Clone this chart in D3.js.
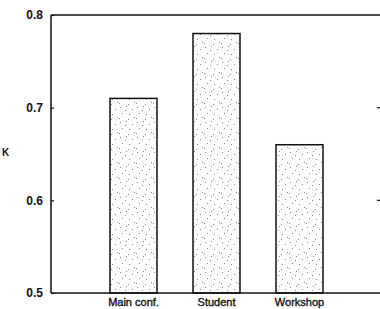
<!DOCTYPE html>
<html>
<head>
<meta charset="utf-8">
<script src="https://cdn.jsdelivr.net/npm/d3@7"></script>
<style>
  body { margin: 0; background: #fff; }
  text { font-family: "Liberation Sans", Arial, sans-serif; fill: #111; }
</style>
</head>
<body>
<script>
// values
const categories = ["Main conf.", "Student", "Workshop"];
const kValues = [0.71, 0.78, 0.66];
const yTicks = [0.5, 0.6, 0.7, 0.8];

(function() {
    const W = 380, H = 309;
    const left = 51, top = 15, bottom = 293;

    const svg = d3.select("body").append("svg")
        .attr("width", W)
        .attr("height", H);

    // stipple fill for the bars
    const defs = svg.append("defs");
    const pat = defs.append("pattern")
        .attr("id", "stip")
        .attr("patternUnits", "userSpaceOnUse")
        .attr("width", 17).attr("height", 15);
    pat.append("rect").attr("width", 17).attr("height", 15).attr("fill", "#fdfdfd");
    [[1,2],[7,1],[13,4],[3,8],[10,9],[15,12],[6,5],[0,13],[9,14]].forEach(function(p) {
        pat.append("rect").attr("x", p[0]).attr("y", p[1])
            .attr("width", 1).attr("height", 1).attr("fill", "#888");
    });

    const x = d3.scaleBand()
        .domain(categories)
        .range([92, 341])
        .paddingInner(0.434)
        .paddingOuter(0.217);

    const y = d3.scaleLinear()
        .domain([0.5, 0.8])
        .range([bottom, top]);

    // bars
    svg.append("g")
        .selectAll("rect")
        .data(categories)
        .join("rect")
            .attr("x", d => x(d))
            .attr("y", (d, i) => y(kValues[i]))
            .attr("width", x.bandwidth())
            .attr("height", (d, i) => y(0.5) - y(kValues[i]))
            .attr("fill", "url(#stip)")
            .attr("stroke", "#111")
            .attr("stroke-width", 1.5);

    // frame: left, top, bottom lines
    const frame = svg.append("g").attr("stroke", "#111").attr("stroke-width", 1.5);
    frame.append("line").attr("x1", left).attr("x2", left).attr("y1", top).attr("y2", bottom);
    frame.append("line").attr("x1", left).attr("x2", W).attr("y1", top).attr("y2", top);
    frame.append("line").attr("x1", left).attr("x2", W).attr("y1", bottom).attr("y2", bottom);

    // y axis
    const yAxis = svg.append("g")
        .attr("transform", `translate(${left},0)`)
        .call(d3.axisLeft(y).tickValues(yTicks).tickFormat(d3.format(".1f")).tickSize(-3).tickPadding(8));
    yAxis.select(".domain").remove();
    yAxis.selectAll("line").attr("stroke", "#111").attr("stroke-width", 1.2);
    yAxis.selectAll("text")
        .attr("font-size", 12)
        .attr("font-weight", "bold")
        .attr("fill", "#111");

    // right-hand ticks
    svg.append("g")
        .selectAll("line")
        .data([0.6, 0.7])
        .join("line")
            .attr("x1", W - 3).attr("x2", W)
            .attr("y1", d => y(d)).attr("y2", d => y(d))
            .attr("stroke", "#111").attr("stroke-width", 1.2);

    // x labels
    const xAxis = svg.append("g")
        .attr("transform", `translate(0,${bottom})`)
        .call(d3.axisBottom(x).tickSize(0).tickPadding(5));
    xAxis.select(".domain").remove();
    xAxis.selectAll("text")
        .attr("font-size", 11)
        .attr("fill", "#111")
        .attr("stroke", "#111")
        .attr("stroke-width", 0.35);

    // y label
    svg.append("text")
        .attr("x", 2)
        .attr("y", 156)
        .attr("font-size", 10)
        .attr("font-weight", "bold")
        .text("K");
})();
</script>
</body>
</html>
